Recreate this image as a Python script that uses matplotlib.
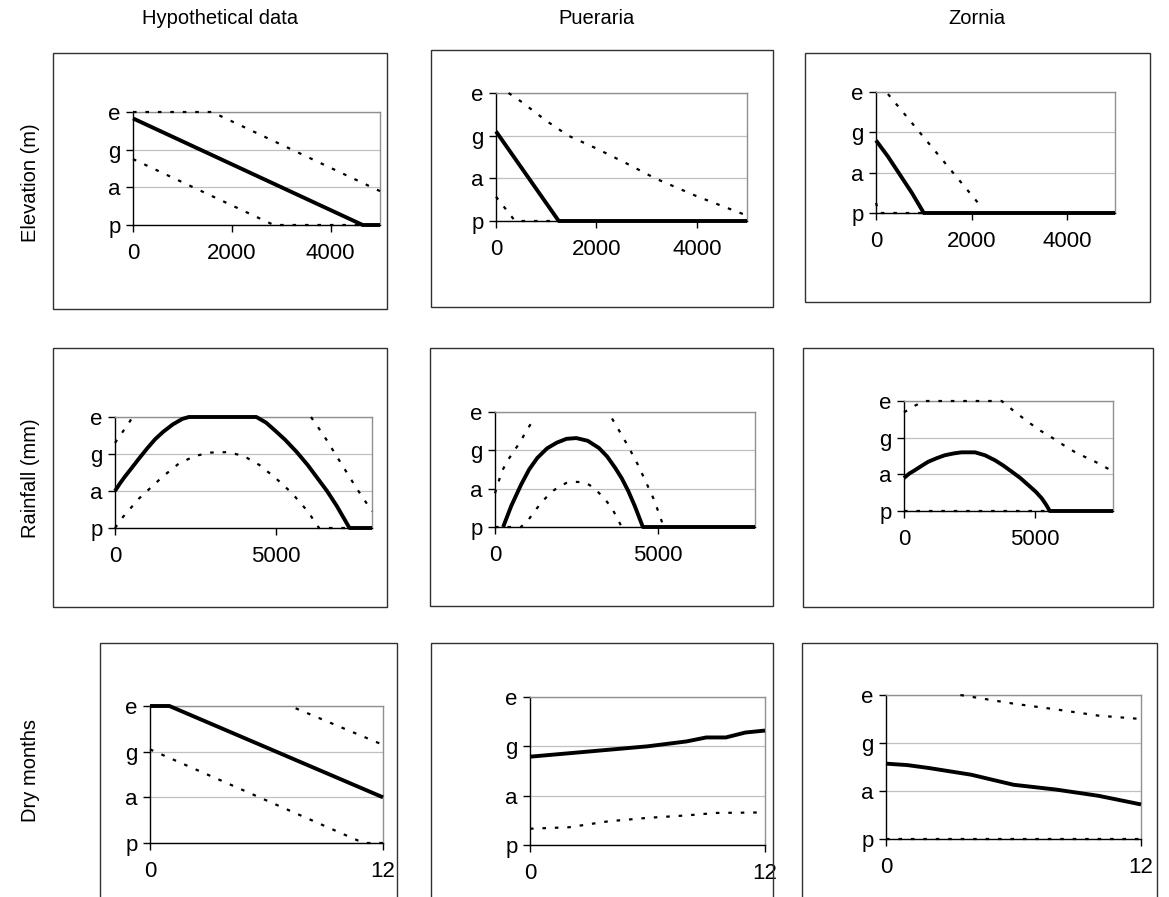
import matplotlib.pyplot as plt
from matplotlib.patches import Rectangle
import numpy as np

plt.rcParams['font.family'] = ['Liberation Sans', 'DejaVu Sans']

W, H = 1169, 897
nan = np.nan

col_titles = ['Hypothetical data', 'Pueraria', 'Zornia']
row_titles = ['Elevation (m)', 'Rainfall (mm)', 'Dry months']
levels = ['p', 'a', 'g', 'e']

# ---- Elevation (m) ----
elev_hyp_x = [0, 4650, 5000]
elev_hyp_y = [2.83, 0, 0]
elev_hyp_hi_x = [0, 1600, 5000]
elev_hyp_hi_y = [3.0, 3.0, 0.9]
elev_hyp_lo_x = [0, 2850, 5000]
elev_hyp_lo_y = [1.75, 0, 0]

elev_pue_x = [0, 1250, 5000]
elev_pue_y = [2.1, 0, 0]
elev_pue_hi_x = [250, 500, 1000, 1440, 2000, 2600, 3170, 4000, 4950]
elev_pue_hi_y = [3.0, 2.8, 2.35, 2.0, 1.7, 1.35, 1.0, 0.58, 0.15]
elev_pue_lo_x = [0, 380, 1150]
elev_pue_lo_y = [0.57, 0, 0]

elev_zor_x = [0, 250, 500, 750, 1000, 5000]
elev_zor_y = [1.8, 1.4, 0.95, 0.5, 0, 0]
elev_zor_hi_x = [250, 2170]
elev_zor_hi_y = [2.95, 0.2]
elev_zor_lo_x = [0, 60, 1000]
elev_zor_lo_y = [0.25, 0, 0]

# ---- Rainfall (mm) ----
rain_hyp_x = [0, 150, 300, 500, 750, 1000, 1250, 1500, 1800, 2100, 2300,
              4400, 4700, 5000, 5300, 5650, 6000, 6300, 6600, 6900, 7100,
              7300, 8000]
rain_hyp_y = [1.0, 1.2, 1.38, 1.6, 1.88, 2.15, 2.4, 2.6, 2.8, 2.95, 3.0,
              3.0, 2.85, 2.62, 2.38, 2.06, 1.7, 1.35, 1.0, 0.6, 0.3,
              0, 0]
rain_hyp_hi_x = [0, 200, 400, 550, nan, 6100, 6500, 7000, 7500, 8000]
rain_hyp_hi_y = [2.3, 2.55, 2.8, 3.0, nan, 3.0, 2.5, 1.8, 1.1, 0.45]
rain_hyp_lo_x = [0, 250, 500, 750, 1000, 1500, 2000, 2500, 3000, 3500,
                 4000, 4500, 5000, 5500, 6000, 6350, 7300]
rain_hyp_lo_y = [0, 0.3, 0.55, 0.8, 1.0, 1.4, 1.75, 1.95, 2.04, 2.05,
                 1.95, 1.7, 1.35, 0.95, 0.45, 0, 0]

rain_pue_x = [250, 500, 800, 1050, 1300, 1600, 1900, 2200, 2500, 2850,
              3200, 3450, 3700, 3900, 4100, 4300, 4550, 8000]
rain_pue_y = [0, 0.55, 1.1, 1.5, 1.8, 2.05, 2.2, 2.3, 2.32, 2.25,
              2.06, 1.84, 1.54, 1.27, 0.94, 0.55, 0, 0]
rain_pue_hi_x = [0, 210, 400, 600, 800, 925, 1180, nan, 3600, 3850, 4120,
                 4400, 4640, 4900, 5150]
rain_pue_hi_y = [0.88, 1.45, 1.75, 2.0, 2.25, 2.45, 2.8, nan, 2.83, 2.47,
                 2.07, 1.62, 1.18, 0.7, 0.1]
rain_pue_lo_x = [0, 800, 1030, 1300, 1550, 1800, 1960, 2200, 2400, 2680,
                 2900, 3090, 3350, 3600, 3900]
rain_pue_lo_y = [0, 0, 0.19, 0.5, 0.75, 0.95, 1.05, 1.15, 1.18, 1.17,
                 1.1, 0.98, 0.76, 0.49, 0]

rain_zor_x = [0, 200, 410, 650, 920, 1250, 1560, 1900, 2200, 2720, 3100,
              3490, 3800, 4130, 4450, 4770, 5050, 5280, 5450, 5580, 8000]
rain_zor_y = [0.9, 1.02, 1.11, 1.22, 1.34, 1.44, 1.52, 1.57, 1.6, 1.6,
              1.52, 1.38, 1.24, 1.07, 0.9, 0.7, 0.52, 0.34, 0.16, 0, 0]
rain_zor_hi_x = [0, 410, 790, 3740, 4250, 4770, 5200, 5670, 6100, 6560,
                 7000, 7330, 8000]
rain_zor_hi_y = [2.69, 2.87, 3.0, 3.0, 2.7, 2.42, 2.2, 2.0, 1.8, 1.6,
                 1.45, 1.34, 1.08]
rain_zor_lo_x = [0, 5500]
rain_zor_lo_y = [0, 0]

# ---- Dry months ----
dry_hyp_x = [0, 1, 12]
dry_hyp_y = [3.0, 3.0, 1.0]
dry_hyp_hi_x = [7.5, 12]
dry_hyp_hi_y = [2.95, 2.15]
dry_hyp_lo_x = [0, 11, 12]
dry_hyp_lo_y = [2.05, 0, 0]

dry_pue_x = [0, 2, 4, 6, 8, 9, 10, 11, 12]
dry_pue_y = [1.79, 1.86, 1.93, 2.0, 2.1, 2.18, 2.18, 2.28, 2.32]
dry_pue_lo_x = [0, 2, 4, 6, 8, 9.5, 12]
dry_pue_lo_y = [0.33, 0.36, 0.48, 0.55, 0.6, 0.65, 0.66]

dry_zor_x = [0, 1, 2, 4, 6, 8, 10, 12]
dry_zor_y = [1.57, 1.54, 1.48, 1.34, 1.13, 1.03, 0.9, 0.72]
dry_zor_hi_x = [3.5, 6, 8, 10, 12]
dry_zor_hi_y = [3.0, 2.82, 2.7, 2.57, 2.5]
dry_zor_lo_x = [0, 12]
dry_zor_lo_y = [0, 0]

elev_ticks = [0, 2000, 4000]
rain_ticks = [0, 5000]
dry_ticks = [0, 12]


def px_axes(fig, x0, y0, x1, y1):
    return fig.add_axes([x0 / W, 1 - y1 / H, (x1 - x0) / W, (y1 - y0) / H])


def px_box(fig, x0, y0, x1, y1):
    fig.add_artist(Rectangle((x0 / W, 1 - y1 / H), (x1 - x0) / W, (y1 - y0) / H,
                             transform=fig.transFigure, fill=False,
                             edgecolor='#303030', lw=1.0))


def draw_panel(ax, xmax, xticks, solid, dotted):
    for xs, ys in dotted:
        ax.plot(xs, ys, color='black', lw=1.6, ls=(0, (1.6, 4.0)),
                clip_on=False, zorder=3)
    ax.plot(solid[0], solid[1], color='black', lw=2.8, zorder=4,
            solid_capstyle='butt', solid_joinstyle='round', clip_on=False)
    ax.set_xlim(0, xmax)
    ax.set_ylim(0, 3)
    ax.set_yticks([0, 1, 2, 3])
    ax.set_yticklabels(levels)
    ax.set_xticks(xticks)
    ax.set_xticklabels([str(t) for t in xticks])
    ax.grid(axis='y', color='#c0c0c0', lw=0.9)
    ax.set_axisbelow(True)
    for s in ['top', 'right']:
        ax.spines[s].set_color('#909090')
        ax.spines[s].set_linewidth(1.0)
    for s in ['left', 'bottom']:
        ax.spines[s].set_color('black')
        ax.spines[s].set_linewidth(1.0)
    ax.tick_params(axis='both', direction='out', length=5, width=1.0,
                   labelsize=16, colors='black')
    ax.tick_params(axis='x', pad=8)
    ax.tick_params(axis='y', pad=4)


fig = plt.figure(figsize=(W / 100, H / 100), dpi=100)

boxes = [(53, 53, 387, 309), (431, 50, 773, 307), (805, 53, 1150, 302),
         (53, 348, 387, 607), (430, 348, 773, 606), (803, 348, 1153, 607),
         (100, 643, 397, 900), (431, 643, 773, 900), (802, 643, 1157, 900)]
axes_px = [(133, 112, 380, 225), (496, 93, 747, 221), (876, 92, 1115, 213),
           (115, 417, 372, 528), (495, 412, 755, 527), (904, 401, 1113, 511),
           (150, 706, 383, 843), (530, 697, 765, 845), (886, 695, 1141, 839)]

panels = [
    (5000, elev_ticks, (elev_hyp_x, elev_hyp_y),
     [(elev_hyp_hi_x, elev_hyp_hi_y), (elev_hyp_lo_x, elev_hyp_lo_y)]),
    (5000, elev_ticks, (elev_pue_x, elev_pue_y),
     [(elev_pue_hi_x, elev_pue_hi_y), (elev_pue_lo_x, elev_pue_lo_y)]),
    (5000, elev_ticks, (elev_zor_x, elev_zor_y),
     [(elev_zor_hi_x, elev_zor_hi_y), (elev_zor_lo_x, elev_zor_lo_y)]),
    (8000, rain_ticks, (rain_hyp_x, rain_hyp_y),
     [(rain_hyp_hi_x, rain_hyp_hi_y), (rain_hyp_lo_x, rain_hyp_lo_y)]),
    (8000, rain_ticks, (rain_pue_x, rain_pue_y),
     [(rain_pue_hi_x, rain_pue_hi_y), (rain_pue_lo_x, rain_pue_lo_y)]),
    (8000, rain_ticks, (rain_zor_x, rain_zor_y),
     [(rain_zor_hi_x, rain_zor_hi_y), (rain_zor_lo_x, rain_zor_lo_y)]),
    (12, dry_ticks, (dry_hyp_x, dry_hyp_y),
     [(dry_hyp_hi_x, dry_hyp_hi_y), (dry_hyp_lo_x, dry_hyp_lo_y)]),
    (12, dry_ticks, (dry_pue_x, dry_pue_y),
     [(dry_pue_lo_x, dry_pue_lo_y)]),
    (12, dry_ticks, (dry_zor_x, dry_zor_y),
     [(dry_zor_hi_x, dry_zor_hi_y), (dry_zor_lo_x, dry_zor_lo_y)]),
]

for box in boxes:
    px_box(fig, *box)

for pos, (xmax, xt, solid, dotted) in zip(axes_px, panels):
    ax = px_axes(fig, *pos)
    draw_panel(ax, xmax, xt, solid, dotted)

# column and row titles
for xc, t in zip([220, 597, 977], col_titles):
    fig.text(xc / W, 1 - 18 / H, t, ha='center', va='center', fontsize=14.5)
for yc, t in zip([183, 478, 770], row_titles):
    fig.text(30 / W, 1 - yc / H, t, ha='center', va='center',
             rotation=90, fontsize=14.5)

fig.savefig('out.png', dpi=100)
